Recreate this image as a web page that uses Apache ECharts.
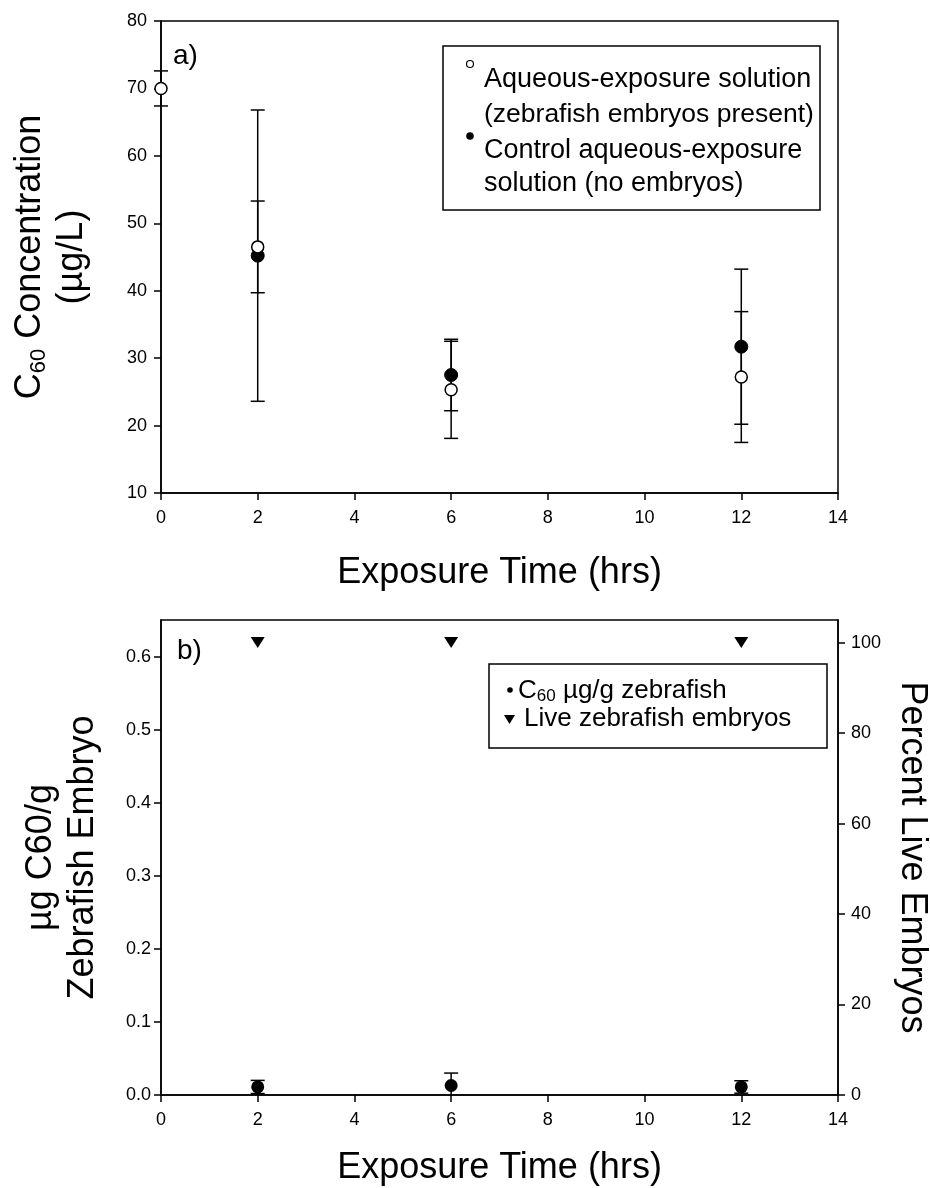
<!DOCTYPE html>
<html>
<head>
<meta charset="utf-8">
<script src="https://cdn.jsdelivr.net/npm/echarts@6/dist/echarts.min.js"></script>
<style>
html,body{margin:0;padding:0;background:#fff;}
#chart{width:930px;height:1188px;}
</style>
</head>
<body>
<div id="chart"></div>
<script>
// ---- Panel a) data ----
const timesAqueous = [0, 2, 6, 12];
const aqueousMean = [70, 46.5, 25.3, 27.2];
const aqueousErr = [2.6, 6.8, 7.2, 9.7];
const timesControl = [2, 6, 12];
const controlMean = [45.2, 27.5, 31.7];
const controlErr = [21.6, 5.3, 11.5];

// ---- Panel b) data ----
const timesEmbryo = [2, 6, 12];
const embryoC60 = [0.011, 0.013, 0.011];
const embryoC60Err = [0.009, 0.017, 0.0085];
const liveEmbryos = [100, 100, 100];

// tick labels / axis ranges
const xTicks = [0, 14, 2];
const yTopTicks = [10, 80, 10];
const yLeftB = [0, 0.65, 0.1];
const yRightB = [0, 105, 20];

const FONT = 'Liberation Sans, Arial, Helvetica, sans-serif';
const BLACK = '#000';

function pts(xs, ys) { return xs.map((x, i) => [x, ys[i]]); }
function errs(xs, ys, es) { return xs.map((x, i) => [x, ys[i] - es[i], ys[i] + es[i]]); }

function errRender(params, api) {
  const x = api.value(0), lo = api.value(1), hi = api.value(2);
  const a = api.coord([x, lo]);
  const b = api.coord([x, hi]);
  const w = 7;
  const st = { stroke: BLACK, lineWidth: 1.5 };
  return {
    type: 'group',
    children: [
      { type: 'line', shape: { x1: a[0], y1: a[1], x2: b[0], y2: b[1] }, style: st },
      { type: 'line', shape: { x1: a[0] - w, y1: a[1], x2: a[0] + w, y2: a[1] }, style: st },
      { type: 'line', shape: { x1: b[0] - w, y1: b[1], x2: b[0] + w, y2: b[1] }, style: st }
    ]
  };
}

const axisCommon = {
  axisLine: { show: true, lineStyle: { color: BLACK, width: 1.5 } },
  axisTick: { show: true, length: 7, lineStyle: { color: BLACK, width: 1.5 } },
  splitLine: { show: false }
};

const chart = echarts.init(document.getElementById('chart'), null, { renderer: 'canvas' });

const option = {
  animation: false,
  backgroundColor: '#fff',
  textStyle: { fontFamily: FONT },
  grid: [
    { left: 161, top: 21, width: 677, height: 472, show: true, borderColor: BLACK, borderWidth: 1.5,
      backgroundColor: 'transparent', containLabel: false, outerBoundsMode: 'none' },
    { left: 161, top: 620, width: 677, height: 475, show: true, borderColor: BLACK, borderWidth: 1.5,
      backgroundColor: 'transparent', containLabel: false, outerBoundsMode: 'none' }
  ],
  xAxis: [
    Object.assign({}, axisCommon, {
      gridIndex: 0, type: 'value', min: xTicks[0], max: xTicks[1], interval: xTicks[2],
      name: 'Exposure Time (hrs)', nameLocation: 'middle', nameGap: 62,
      nameTextStyle: { fontSize: 36, color: BLACK, fontFamily: FONT },
      axisLabel: { fontSize: 18, color: BLACK, margin: 16, fontFamily: FONT }
    }),
    Object.assign({}, axisCommon, {
      gridIndex: 1, type: 'value', min: xTicks[0], max: xTicks[1], interval: xTicks[2],
      name: 'Exposure Time (hrs)', nameLocation: 'middle', nameGap: 55,
      nameTextStyle: { fontSize: 36, color: BLACK, fontFamily: FONT },
      axisLabel: { fontSize: 18, color: BLACK, margin: 16, fontFamily: FONT }
    })
  ],
  yAxis: [
    Object.assign({}, axisCommon, {
      gridIndex: 0, type: 'value', min: yTopTicks[0], max: yTopTicks[1], interval: yTopTicks[2],
      name: '{b|C}{s|60}{b| Concentration}\n{b|(µg/L)}',
      nameLocation: 'middle', nameRotate: 90, nameGap: 68,
      nameTextStyle: {
        color: BLACK, fontFamily: FONT, align: 'center',
        rich: {
          b: { fontSize: 36, lineHeight: 42, color: BLACK, fontFamily: FONT },
          s: { fontSize: 22, lineHeight: 24, padding: [18, 0, 0, 0], color: BLACK, fontFamily: FONT }
        }
      },
      axisLabel: { fontSize: 18, color: BLACK, margin: 14, fontFamily: FONT }
    }),
    Object.assign({}, axisCommon, {
      gridIndex: 1, type: 'value', min: yLeftB[0], max: yLeftB[1], interval: yLeftB[2],
      name: 'µg C60/g\nZebrafish Embryo',
      nameLocation: 'middle', nameRotate: 90, nameGap: 57,
      nameTextStyle: { fontSize: 36, lineHeight: 42, color: BLACK, fontFamily: FONT, align: 'center' },
      axisLabel: { fontSize: 18, color: BLACK, margin: 10, fontFamily: FONT, showMaxLabel: false,
        formatter: v => v.toFixed(1) }
    }),
    Object.assign({}, axisCommon, {
      gridIndex: 1, type: 'value', position: 'right', min: yRightB[0], max: yRightB[1], interval: yRightB[2],
      name: 'Percent Live Embryos',
      nameLocation: 'middle', nameRotate: -90, nameGap: 56,
      nameTextStyle: { fontSize: 36, color: BLACK, fontFamily: FONT },
      axisLabel: { fontSize: 18, color: BLACK, margin: 13, fontFamily: FONT, showMaxLabel: false }
    })
  ],
  series: [
    // panel a error bars
    { type: 'custom', name: 'Control err', xAxisIndex: 0, yAxisIndex: 0, renderItem: errRender,
      encode: { x: 0, y: [1, 2] }, data: errs(timesControl, controlMean, controlErr), z: 2 },
    { type: 'custom', name: 'Aqueous err', xAxisIndex: 0, yAxisIndex: 0, renderItem: errRender,
      encode: { x: 0, y: [1, 2] }, data: errs(timesAqueous, aqueousMean, aqueousErr), z: 2 },
    { type: 'scatter', name: 'Control aqueous-exposure solution (no embryos)', xAxisIndex: 0, yAxisIndex: 0,
      symbol: 'circle', symbolSize: 13, itemStyle: { color: BLACK, borderColor: BLACK, borderWidth: 1, opacity: 1 },
      data: pts(timesControl, controlMean), z: 3 },
    { type: 'scatter', name: 'Aqueous-exposure solution (zebrafish embryos present)', xAxisIndex: 0, yAxisIndex: 0,
      symbol: 'circle', symbolSize: 12, itemStyle: { color: '#fff', borderColor: BLACK, borderWidth: 1.5, opacity: 1 },
      data: pts(timesAqueous, aqueousMean), z: 4 },
    // panel b
    { type: 'custom', name: 'C60 err', xAxisIndex: 1, yAxisIndex: 1, renderItem: errRender, clip: true,
      encode: { x: 0, y: [1, 2] }, data: errs(timesEmbryo, embryoC60, embryoC60Err), z: 2 },
    { type: 'scatter', name: 'C60 µg/g zebrafish', xAxisIndex: 1, yAxisIndex: 1,
      symbol: 'circle', symbolSize: 13, itemStyle: { color: BLACK, opacity: 1 },
      data: pts(timesEmbryo, embryoC60), z: 3 },
    { type: 'scatter', name: 'Live zebrafish embryos', xAxisIndex: 1, yAxisIndex: 2,
      symbol: 'triangle', symbolRotate: 180, symbolSize: [14, 11], itemStyle: { color: BLACK, opacity: 1 },
      data: pts(timesEmbryo, liveEmbryos), z: 3 }
  ],
  graphic: [
    // panel labels
    { type: 'text', x: 173, y: 56, style: { text: 'a)', fontSize: 28, fontFamily: FONT, fill: BLACK, verticalAlign: 'middle' } },
    { type: 'text', x: 177, y: 651, style: { text: 'b)', fontSize: 28, fontFamily: FONT, fill: BLACK, verticalAlign: 'middle' } },
    // legend a
    { type: 'rect', shape: { x: 443, y: 46, width: 377, height: 164 }, style: { fill: '#fff', stroke: BLACK, lineWidth: 1.5 }, z: 10 },
    { type: 'circle', shape: { cx: 470, cy: 64, r: 3.5 }, style: { fill: '#fff', stroke: BLACK, lineWidth: 1.2 }, z: 11 },
    { type: 'circle', shape: { cx: 470, cy: 136, r: 3.8 }, style: { fill: BLACK }, z: 11 },
    { type: 'text', x: 484, y: 80, z: 11, style: { text: 'Aqueous-exposure solution', fontSize: 27, fontFamily: FONT, fill: BLACK, verticalAlign: 'middle' } },
    { type: 'text', x: 484, y: 115, z: 11, style: { text: '(zebrafish embryos present)', fontSize: 26.5, fontFamily: FONT, fill: BLACK, verticalAlign: 'middle' } },
    { type: 'text', x: 484, y: 151, z: 11, style: { text: 'Control aqueous-exposure', fontSize: 27, fontFamily: FONT, fill: BLACK, verticalAlign: 'middle' } },
    { type: 'text', x: 484, y: 184, z: 11, style: { text: 'solution (no embryos)', fontSize: 27, fontFamily: FONT, fill: BLACK, verticalAlign: 'middle' } },
    // legend b
    { type: 'rect', shape: { x: 489, y: 664, width: 338, height: 84 }, style: { fill: '#fff', stroke: BLACK, lineWidth: 1.5 }, z: 10 },
    { type: 'circle', shape: { cx: 510, cy: 690, r: 2.8 }, style: { fill: BLACK }, z: 11 },
    { type: 'polygon', shape: { points: [[504, 715], [515, 715], [509.5, 724]] }, style: { fill: BLACK }, z: 11 },
    { type: 'text', x: 518, y: 691, z: 11, style: {
        text: '{b|C}{s|60}{b| µg/g zebrafish}', fill: BLACK, verticalAlign: 'middle',
        rich: {
          b: { fontSize: 26, lineHeight: 28, fontFamily: FONT, fill: BLACK },
          s: { fontSize: 17, lineHeight: 16, padding: [10, 0, 0, 0], fontFamily: FONT, fill: BLACK }
        } } },
    { type: 'text', x: 524, y: 719, z: 11, style: { text: 'Live zebrafish embryos', fontSize: 26, fontFamily: FONT, fill: BLACK, verticalAlign: 'middle' } }
  ]
};

chart.setOption(option);
</script>
</body>
</html>
